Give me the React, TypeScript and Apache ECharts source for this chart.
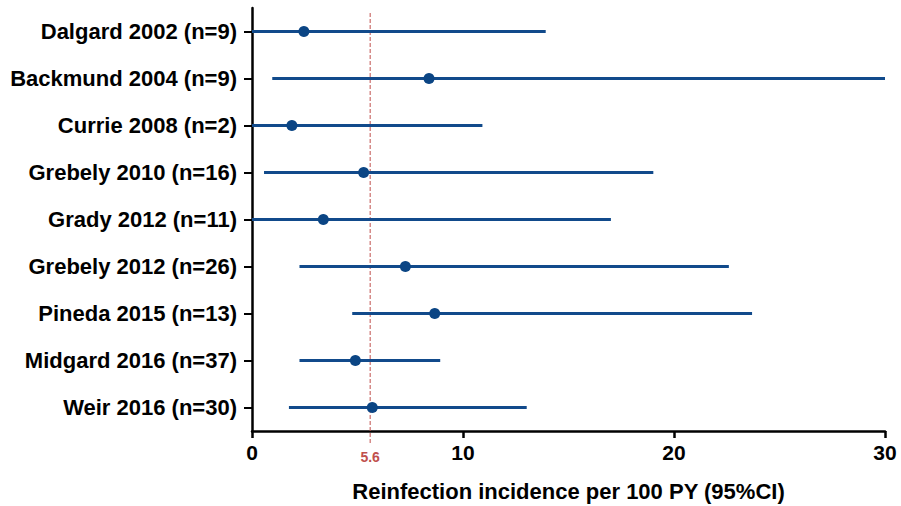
import React, { useEffect, useRef } from "react";
import * as echarts from "echarts";

const categories = [
  "Dalgard 2002 (n=9)",
  "Backmund 2004 (n=9)",
  "Currie 2008 (n=2)",
  "Grebely 2010 (n=16)",
  "Grady 2012 (n=11)",
  "Grebely 2012 (n=26)",
  "Pineda 2015 (n=13)",
  "Midgard 2016 (n=37)",
  "Weir 2016 (n=30)",
];
const pointEstimate = [2.46, 8.39, 1.89, 5.29, 3.38, 7.27, 8.66, 4.9, 5.7];
const lowerCI = [0, 0.96, 0, 0.57, 0, 2.25, 4.75, 2.25, 1.75];
const upperCI = [13.92, 30, 10.92, 19.02, 17.01, 22.6, 23.7, 8.92, 13.02];
const pooledValue = 5.6;
const pooledLabel = "5.6";
const xTicks = { min: 0, max: 30, interval: 10 };

const FONT = "'Liberation Sans', Arial, Helvetica, sans-serif";

export default function App() {
  const ref = useRef<HTMLDivElement>(null);

  useEffect(() => {
    if (!ref.current) return;
    const chart = echarts.init(ref.current, undefined, { renderer: "svg" });

    const whiskerData = categories.map((_, i) => [lowerCI[i], upperCI[i], i]);
    const pointData = categories.map((c, i) => [pointEstimate[i], i]);

    chart.setOption({
      animation: false,
      backgroundColor: "#ffffff",
      grid: {
        left: 252,
        right: 16,
        top: 8,
        bottom: 75,
        containLabel: false,
        outerBoundsMode: "none",
      },
      xAxis: {
        type: "value",
        min: xTicks.min,
        max: xTicks.max,
        interval: xTicks.interval,
        name: "Reinfection incidence per 100 PY (95%CI)",
        nameLocation: "middle",
        nameGap: 49,
        nameTextStyle: { fontSize: 22, fontWeight: "bold", color: "#000", fontFamily: FONT },
        axisLine: { show: true, lineStyle: { color: "#000", width: 2.5 } },
        axisTick: { show: true, length: 7, lineStyle: { color: "#000", width: 2.5 } },
        axisLabel: { fontSize: 21, fontWeight: "bold", color: "#000", fontFamily: FONT, margin: 11 },
        splitLine: { show: false },
      },
      yAxis: {
        type: "category",
        inverse: true,
        data: categories,
        axisLine: { show: true, lineStyle: { color: "#000", width: 2.5 } },
        axisTick: { show: true, alignWithLabel: true, length: 8, lineStyle: { color: "#000", width: 2 } },
        axisLabel: { fontSize: 22, fontWeight: "bold", color: "#000", fontFamily: FONT, margin: 15 },
        splitLine: { show: false },
      },
      series: [
        {
          type: "custom",
          name: "CI",
          encode: { x: [0, 1], y: 2 },
          data: whiskerData,
          renderItem: (params: any, api: any) => {
            const s = api.coord([api.value(0), api.value(2)]);
            const e = api.coord([api.value(1), api.value(2)]);
            return {
              type: "line",
              shape: { x1: s[0], y1: s[1], x2: e[0], y2: e[1] },
              style: { stroke: "#114a8b", lineWidth: 3 },
            };
          },
          z: 2,
        },
        {
          type: "custom",
          name: "pooled",
          encode: { x: 0, y: 1 },
          data: [[pooledValue, 0]],
          renderItem: (params: any, api: any) => {
            const p = api.coord([api.value(0), 0]);
            const cs = params.coordSys;
            const bottom = cs.y + cs.height;
            return {
              type: "group",
              children: [
                {
                  type: "line",
                  shape: { x1: p[0], y1: cs.y + 5, x2: p[0], y2: bottom + 12 },
                  style: { stroke: "#c0504d", lineWidth: 1, lineDash: [4, 2] },
                },
                {
                  type: "text",
                  x: p[0],
                  y: bottom + 26,
                  style: {
                    text: pooledLabel,
                    fill: "#c0504d",
                    fontSize: 14,
                    fontWeight: "bold",
                    fontFamily: FONT,
                    align: "center",
                    verticalAlign: "middle",
                  },
                },
              ],
            };
          },
          z: 1,
        },
        {
          type: "scatter",
          name: "estimate",
          data: pointData,
          symbol: "circle",
          symbolSize: 11,
          itemStyle: { color: "#0b4584", opacity: 1 },
          z: 3,
        },
      ],
    });

    return () => chart.dispose();
  }, []);

  return (
    <div
      ref={ref}
      style={{ position: "fixed", left: 0, top: 0, width: 901, height: 506 }}
    />
  );
}
